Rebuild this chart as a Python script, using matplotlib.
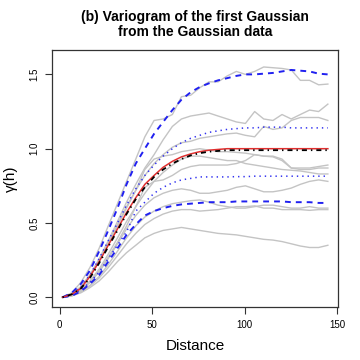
import matplotlib
matplotlib.use("Agg")
import matplotlib.pyplot as plt

plt.rcParams['font.family'] = ['Liberation Sans', 'DejaVu Sans']

# lag distances
dist = [1.5, 6.5, 11.4, 16.3, 21.3, 26.2, 31.2, 36.1, 41.1, 46.0,
        51.0, 55.9, 60.9, 65.8, 70.8, 75.7, 80.7, 85.6, 90.6, 95.5,
        100.4, 105.4, 110.3, 115.3, 120.2, 125.2, 130.1, 135.1, 140.0, 145.0]

# simulated variograms (grey)
sims = [
    [0, 0.03, 0.10, 0.20, 0.33, 0.48, 0.63, 0.78, 0.93, 1.08, 1.19, 1.20, 1.23, 1.35, 1.36,
     1.41, 1.45, 1.45, 1.49, 1.52, 1.50, 1.52, 1.55, 1.545, 1.54, 1.53, 1.46, 1.46, 1.43, 1.435],
    [0, 0.02, 0.07, 0.15, 0.26, 0.38, 0.51, 0.64, 0.76, 0.87, 0.96, 1.06, 1.15, 1.20, 1.22,
     1.23, 1.24, 1.22, 1.20, 1.18, 1.17, 1.25, 1.20, 1.19, 1.23, 1.20, 1.23, 1.26, 1.25, 1.30],
    [0, 0.02, 0.07, 0.15, 0.25, 0.37, 0.49, 0.61, 0.72, 0.82, 0.90, 0.96, 1.01, 1.04, 1.05,
     1.07, 1.08, 1.09, 1.10, 1.105, 1.09, 1.08, 1.15, 1.13, 1.14, 1.19, 1.21, 1.21, 1.21, 1.19],
    [0, 0.02, 0.07, 0.14, 0.24, 0.36, 0.48, 0.60, 0.72, 0.86, 0.93, 0.95, 0.96, 0.98, 0.99,
     1.00, 0.99, 0.98, 0.98, 0.975, 0.97, 0.96, 0.95, 0.95, 0.93, 0.87, 0.87, 0.87, 0.88, 0.89],
    [0, 0.015, 0.05, 0.11, 0.19, 0.29, 0.40, 0.51, 0.61, 0.70, 0.78, 0.84, 0.89, 0.93, 0.95,
     0.95, 0.94, 0.93, 0.92, 0.92, 0.90, 0.89, 0.88, 0.87, 0.86, 0.855, 0.85, 0.84, 0.83, 0.83],
    [0, 0.015, 0.05, 0.10, 0.18, 0.27, 0.37, 0.48, 0.61, 0.74, 0.78, 0.79, 0.82, 0.86, 0.88,
     0.89, 0.89, 0.89, 0.89, 0.90, 0.92, 0.96, 0.95, 0.945, 0.92, 0.87, 0.86, 0.86, 0.87, 0.87],
    [0, 0.015, 0.05, 0.10, 0.17, 0.26, 0.36, 0.46, 0.55, 0.62, 0.67, 0.70, 0.72, 0.73, 0.72,
     0.70, 0.70, 0.71, 0.72, 0.74, 0.75, 0.73, 0.71, 0.71, 0.72, 0.735, 0.76, 0.78, 0.79, 0.78],
    [0, 0.01, 0.04, 0.08, 0.14, 0.22, 0.31, 0.40, 0.48, 0.54, 0.58, 0.61, 0.63, 0.64, 0.65,
     0.655, 0.64, 0.62, 0.61, 0.60, 0.60, 0.61, 0.62, 0.62, 0.61, 0.60, 0.60, 0.61, 0.60, 0.60],
    [0, 0.01, 0.035, 0.075, 0.13, 0.20, 0.28, 0.36, 0.43, 0.49, 0.53, 0.56, 0.58, 0.59, 0.59,
     0.58, 0.585, 0.59, 0.60, 0.61, 0.61, 0.615, 0.60, 0.60, 0.59, 0.59, 0.59, 0.585, 0.59, 0.59],
    [0, 0.01, 0.03, 0.065, 0.11, 0.17, 0.24, 0.30, 0.35, 0.40, 0.43, 0.45, 0.46, 0.47, 0.46,
     0.45, 0.44, 0.43, 0.425, 0.42, 0.41, 0.40, 0.39, 0.385, 0.375, 0.36, 0.345, 0.335, 0.335, 0.35],
]

# envelopes
q975 = [0, 0.03, 0.09, 0.18, 0.31, 0.45, 0.60, 0.76, 0.90, 1.00, 1.10, 1.18, 1.26, 1.33, 1.38,
        1.415, 1.44, 1.46, 1.475, 1.49, 1.50, 1.50, 1.505, 1.51, 1.52, 1.53, 1.525, 1.52, 1.505, 1.50]
q75 = [0, 0.02, 0.07, 0.15, 0.26, 0.38, 0.50, 0.62, 0.73, 0.82, 0.89, 0.95, 1.00, 1.04, 1.07,
       1.09, 1.11, 1.12, 1.13, 1.135, 1.14, 1.14, 1.145, 1.145, 1.145, 1.14, 1.14, 1.14, 1.14, 1.14]
q25 = [0, 0.015, 0.05, 0.10, 0.17, 0.26, 0.35, 0.44, 0.58, 0.64, 0.70, 0.74, 0.77, 0.79, 0.80,
       0.81, 0.81, 0.81, 0.81, 0.812, 0.812, 0.815, 0.815, 0.815, 0.815, 0.815, 0.815, 0.815, 0.815, 0.815]
q025 = [0, 0.01, 0.04, 0.09, 0.15, 0.24, 0.33, 0.42, 0.49, 0.55, 0.58, 0.60, 0.615, 0.625, 0.63,
        0.635, 0.64, 0.64, 0.64, 0.645, 0.645, 0.645, 0.645, 0.645, 0.645, 0.64, 0.64, 0.64, 0.635, 0.635]

mean_vg = [0, 0.02, 0.06, 0.14, 0.24, 0.35, 0.46, 0.57, 0.67, 0.76, 0.82, 0.875, 0.915, 0.945, 0.965,
           0.98, 0.99, 0.995, 1.0, 1.0, 1.0, 1.0, 1.0, 1.0, 1.0, 1.0, 1.0, 1.0, 1.0, 1.0]
model_vg = [0, 0.02, 0.06, 0.13, 0.23, 0.34, 0.45, 0.56, 0.66, 0.74, 0.81, 0.86, 0.90, 0.93, 0.955,
            0.97, 0.98, 0.985, 0.99, 0.99, 0.99, 0.99, 0.99, 0.99, 0.99, 0.99, 0.99, 0.99, 0.99, 0.99]

fig = plt.figure(figsize=(3.6, 3.6), dpi=100)
ax = fig.add_axes([0.144, 0.147, 0.795, 0.714])

for s in sims:
    ax.plot(dist, s, color='#C4C4C4', lw=1.0)

ax.plot(dist, q975, color='#2020F0', lw=1.4, dashes=(3, 2.6))
ax.plot(dist, q025, color='#2020F0', lw=1.4, dashes=(3, 2.6))
ax.plot(dist, q75, color='#3030F0', lw=1.1, dashes=(0.9, 2.6))
ax.plot(dist, q25, color='#3030F0', lw=1.1, dashes=(0.9, 2.6))
ax.plot(dist, mean_vg, color='#E03030', lw=1.1)
ax.plot(dist, model_vg, color='black', lw=1.3, dashes=(0.8, 2.2, 2.8, 2.2))

ax.set_xlim(-4.3, 150.5)
ax.set_ylim(-0.066, 1.664)
ax.set_xticks([0, 50, 100, 150])
ax.set_yticks([0.0, 0.5, 1.0, 1.5])
ax.set_yticklabels(['0.0', '0.5', '1.0', '1.5'], rotation=90, va='center')
ax.tick_params(labelsize=7, length=5, width=0.8, color='#333333', pad=4)
for sp in ax.spines.values():
    sp.set_color('#333333')
    sp.set_linewidth(0.9)

ax.set_xlabel('Distance', fontsize=11, labelpad=7)
ax.set_ylabel('γ(h)', fontsize=11, labelpad=8)
ax.set_title('(b) Variogram of the first Gaussian\nfrom the Gaussian data',
             fontsize=10, fontweight='bold', pad=10, linespacing=1.15)

plt.savefig('out.png', dpi=100)
